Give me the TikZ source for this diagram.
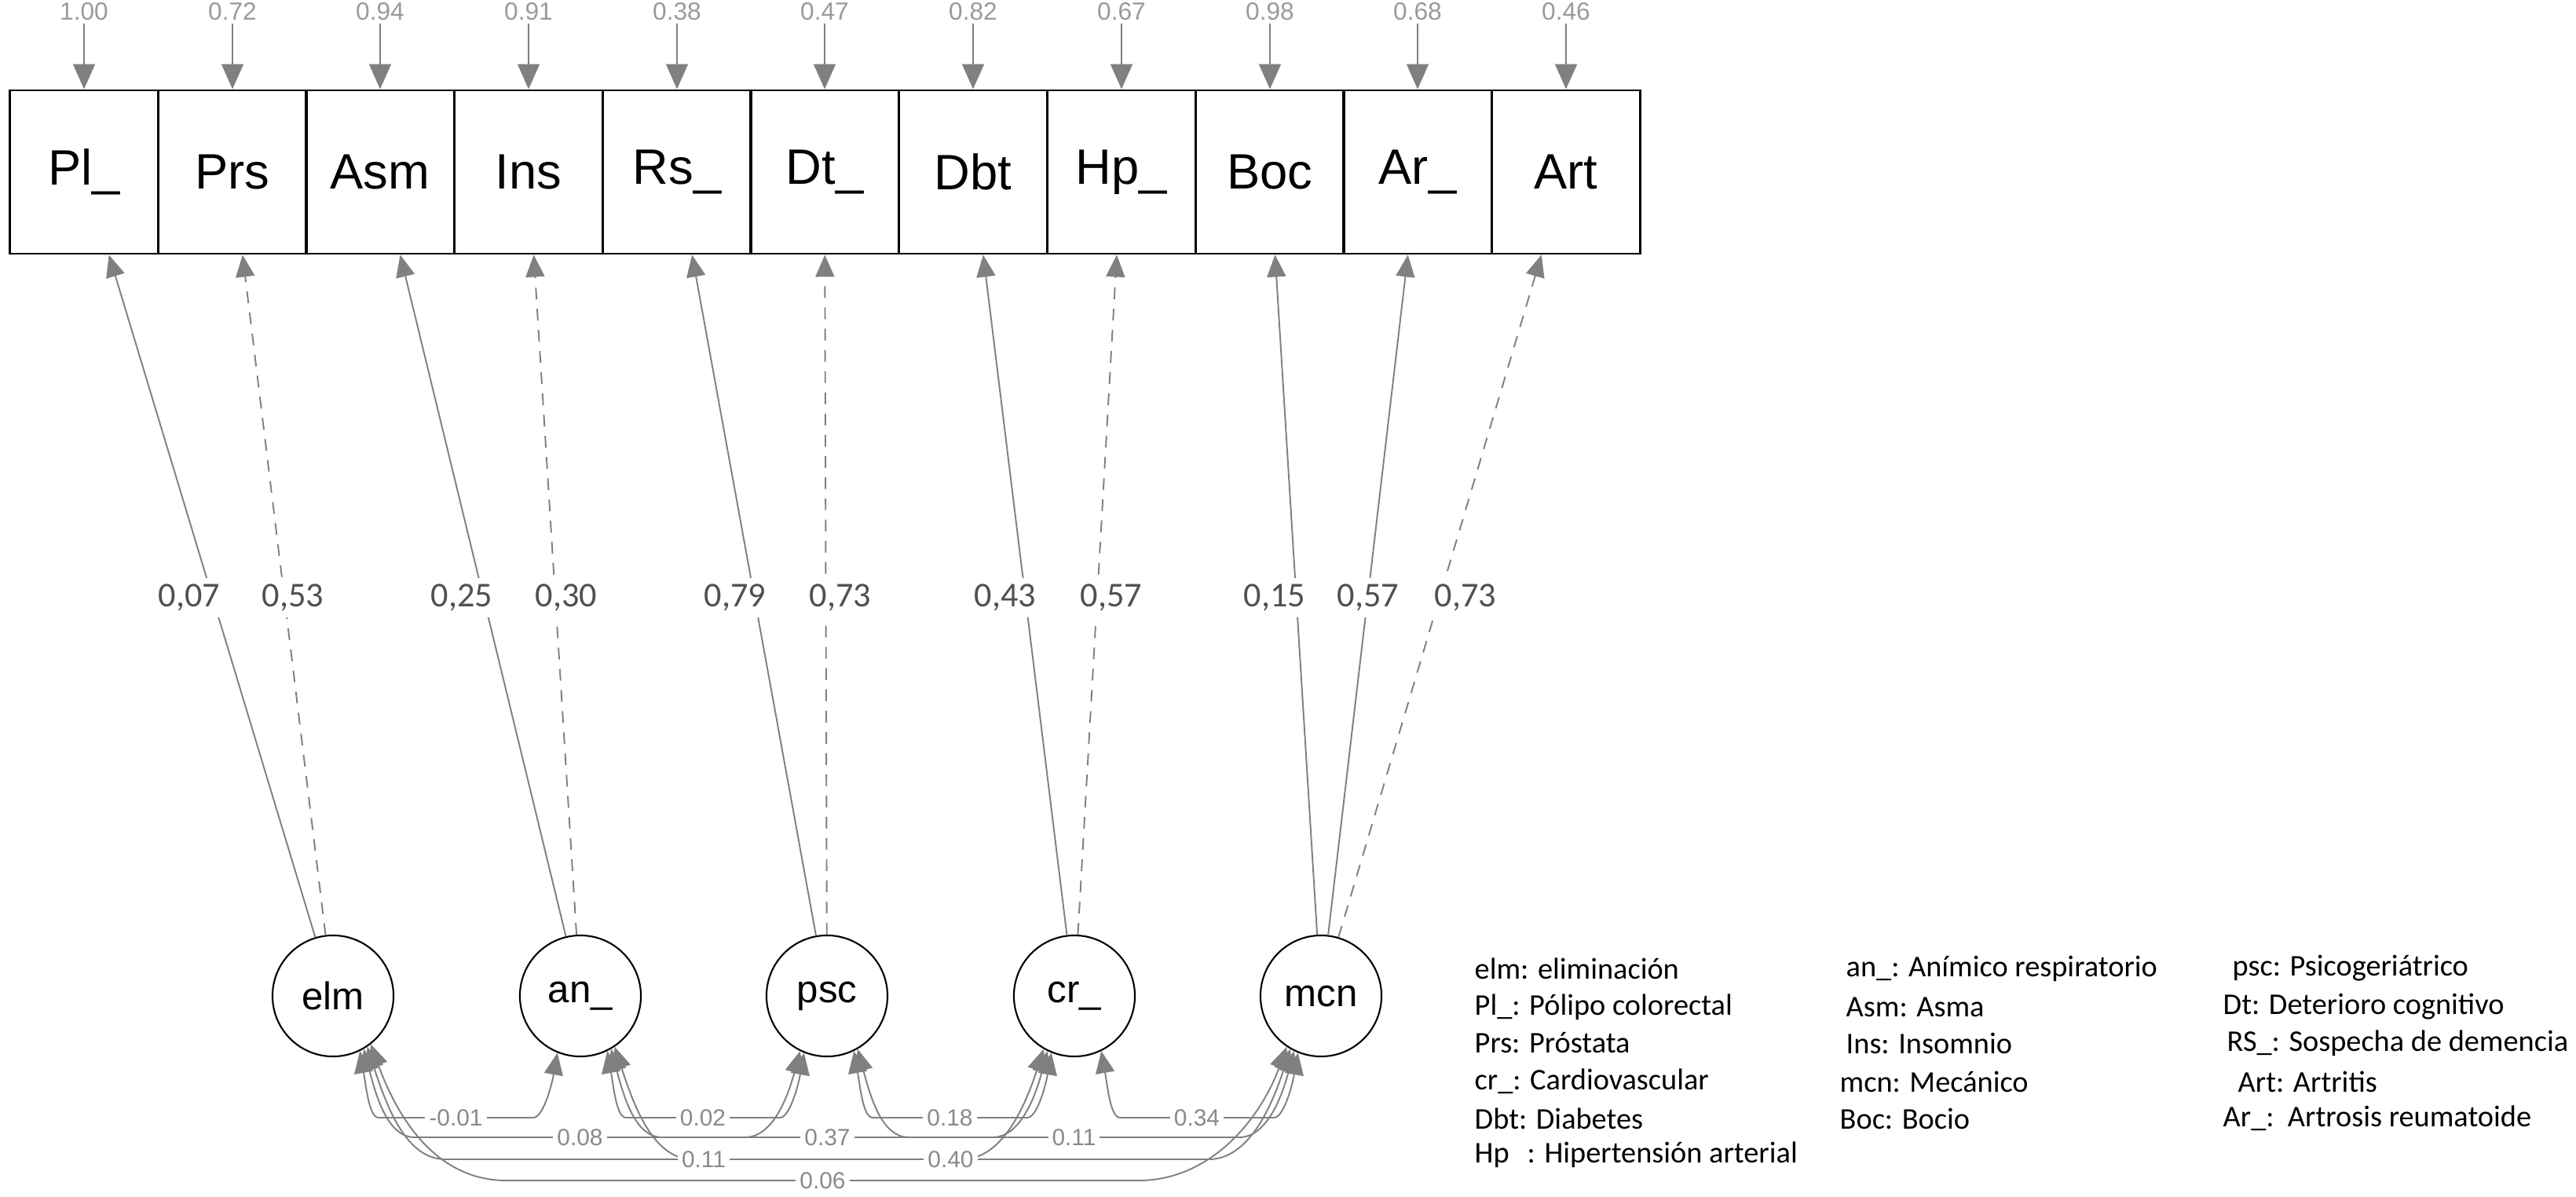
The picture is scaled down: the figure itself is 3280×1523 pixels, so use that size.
\documentclass[tikz,border=0pt]{standalone}
\usepackage{fontspec}
\setmainfont{Liberation Sans}
\newfontfamily\legendfont{Carlito}
\usetikzlibrary{arrows.meta}
\definecolor{edgegray}{HTML}{808080}
\definecolor{resgray}{HTML}{9A9A9A}
\definecolor{loadgray}{HTML}{505050}
\definecolor{covgray}{HTML}{8A8A8A}

\begin{document}
\begin{tikzpicture}[x=0.01cm,y=0.01cm,
  manifest/.style={draw,line width=.8pt,minimum width=1.89cm,minimum height=2.08cm,inner sep=0pt,font=\fontsize{18}{20}\selectfont},
  latent/.style={draw,circle,line width=.6pt,minimum size=1.54cm,inner sep=0pt,font=\fontsize{14}{16}\selectfont},
  reslab/.style={text=resgray,inner sep=1pt,font=\fontsize{9}{10}\selectfont},
  resarrow/.style={draw=edgegray,line width=.6pt,-{Triangle[length=0.32cm,width=0.28cm]}},
  load/.style={draw=edgegray,line width=.55pt,-{Triangle[length=0.28cm,width=0.24cm]}},
  loaddash/.style={load,dash pattern=on 0.15cm off 0.12cm},
  loadlab/.style={fill=white,text=loadgray,inner sep=0.08cm,font=\legendfont\fontsize{12.6}{14}\selectfont},
  cov/.style={draw=edgegray,line width=.55pt,{Triangle[length=0.28cm,width=0.24cm]}-{Triangle[length=0.28cm,width=0.24cm]}},
  covlab/.style={fill=white,text=covgray,inner xsep=0.05cm,inner ysep=0.01cm,font=\fontsize{8.5}{9}\selectfont},
  legend/.style={anchor=west,inner sep=0pt,font=\legendfont\fontsize{10.9}{12}\selectfont}]
  \useasboundingbox (0,0) rectangle (3280,1523);

  % indicators
  \node[manifest] (Pl) at (107,1304) {Pl\_};
  \node[manifest] (Prs) at (296,1304) {Prs};
  \node[manifest] (Asm) at (484,1304) {Asm};
  \node[manifest] (Ins) at (673,1304) {Ins};
  \node[manifest] (Rs) at (862,1304) {Rs\_};
  \node[manifest] (Dt) at (1050,1304) {Dt\_};
  \node[manifest] (Dbt) at (1239,1304) {Dbt};
  \node[manifest] (Hp) at (1428,1304) {Hp\_};
  \node[manifest] (Boc) at (1617,1304) {Boc};
  \node[manifest] (Ar) at (1805,1304) {Ar\_};
  \node[manifest] (Art) at (1994,1304) {Art};

  % factors
  \node[latent] (elm) at (424,255) {elm};
  \node[latent] (an) at (739,255) {an\_};
  \node[latent] (psc) at (1053,255) {psc};
  \node[latent] (cr) at (1368,255) {cr\_};
  \node[latent] (mcn) at (1682,255) {mcn};

  % residuals
  \node[reslab] (rPl) at (107,1508) {1.00};
  \node[reslab] (rPrs) at (296,1508) {0.72};
  \node[reslab] (rAsm) at (484,1508) {0.94};
  \node[reslab] (rIns) at (673,1508) {0.91};
  \node[reslab] (rRs) at (862,1508) {0.38};
  \node[reslab] (rDt) at (1050,1508) {0.47};
  \node[reslab] (rDbt) at (1239,1508) {0.82};
  \node[reslab] (rHp) at (1428,1508) {0.67};
  \node[reslab] (rBoc) at (1617,1508) {0.98};
  \node[reslab] (rAr) at (1805,1508) {0.68};
  \node[reslab] (rArt) at (1994,1508) {0.46};
  \path[resarrow] (rPl) -- (Pl);
  \path[resarrow] (rPrs) -- (Prs);
  \path[resarrow] (rAsm) -- (Asm);
  \path[resarrow] (rIns) -- (Ins);
  \path[resarrow] (rRs) -- (Rs);
  \path[resarrow] (rDt) -- (Dt);
  \path[resarrow] (rDbt) -- (Dbt);
  \path[resarrow] (rHp) -- (Hp);
  \path[resarrow] (rBoc) -- (Boc);
  \path[resarrow] (rAr) -- (Ar);
  \path[resarrow] (rArt) -- (Art);

  % loadings
  \path[load] (elm) -- (Pl);
  \path[loaddash] (elm) -- (Prs);
  \path[load] (an) -- (Asm);
  \path[loaddash] (an) -- (Ins);
  \path[load] (psc) -- (Rs);
  \path[loaddash] (psc) -- (Dt);
  \path[load] (cr) -- (Dbt);
  \path[loaddash] (cr) -- (Hp);
  \path[load] (mcn) -- (Boc);
  \path[load] (mcn) -- (Ar);
  \path[loaddash] (mcn) -- (Art);
  \node[loadlab] (lPl) at (241,762) {0,07};
  \node[loadlab] (lPrs) at (373,762) {0,53};
  \node[loadlab] (lAsm) at (588,762) {0,25};
  \node[loadlab] (lIns) at (721,762) {0,30};
  \node[loadlab] (lRs) at (936,762) {0,79};
  \node[loadlab] (lDt) at (1070,762) {0,73};
  \node[loadlab] (lDbt) at (1280,762) {0,43};
  \node[loadlab] (lHp) at (1415,762) {0,57};
  \node[loadlab] (lBoc) at (1623,762) {0,15};
  \node[loadlab] (lAr) at (1742,762) {0,57};
  \node[loadlab] (lArt) at (1866,762) {0,73};

  % covariances
  \path[cov] (elm.-64) .. controls +(-80:45) and +(180:12) .. (482,100) -- coordinate[midway] (cElmAn) (679,100) .. controls +(0:12) and +(-100:45) .. (an.-112);
  \path[cov] (an.-64) .. controls +(-80:45) and +(180:12) .. (797,100) -- coordinate[midway] (cAnPsc) (993,100) .. controls +(0:12) and +(-100:45) .. (psc.-112);
  \path[cov] (psc.-64) .. controls +(-80:45) and +(180:12) .. (1111,100) -- coordinate[midway] (cPscCr) (1308,100) .. controls +(0:12) and +(-100:45) .. (cr.-112);
  \path[cov] (cr.-64) .. controls +(-80:45) and +(180:12) .. (1426,100) -- coordinate[midway] (cCrMcn) (1622,100) .. controls +(0:12) and +(-100:45) .. (mcn.-112);
  \path[cov] (elm.-60) .. controls +(-75:60) and +(180:35) .. (528,75) -- coordinate[midway] (cElmPsc) (949,75) .. controls +(0:35) and +(-105:60) .. (psc.-116);
  \path[cov] (an.-60) .. controls +(-75:60) and +(180:35) .. (843,75) -- coordinate[midway] (cAnCr) (1264,75) .. controls +(0:35) and +(-105:60) .. (cr.-116);
  \path[cov] (psc.-60) .. controls +(-75:60) and +(180:35) .. (1157,75) -- coordinate[midway] (cPscMcn) (1578,75) .. controls +(0:35) and +(-105:60) .. (mcn.-116);
  \path[cov] (elm.-56) .. controls +(-72:80) and +(180:50) .. (567,47) -- coordinate[midway] (cElmCr) (1225,47) .. controls +(0:50) and +(-108:80) .. (cr.-120);
  \path[cov] (an.-56) .. controls +(-72:80) and +(180:50) .. (882,47) -- coordinate[midway] (cAnMcn) (1539,47) .. controls +(0:50) and +(-108:80) .. (mcn.-120);
  \path[cov] (elm.-52) .. controls +(-70:100) and +(180:90) .. (645,20) -- coordinate[midway] (cElmMcn) (1450,20) .. controls +(0:90) and +(-110:100) .. (mcn.-124);
  \node[covlab] (vElmAn) at (cElmAn) {-0.01};
  \node[covlab] (vAnPsc) at (cAnPsc) {0.02};
  \node[covlab] (vPscCr) at (cPscCr) {0.18};
  \node[covlab] (vCrMcn) at (cCrMcn) {0.34};
  \node[covlab] (vElmPsc) at (cElmPsc) {0.08};
  \node[covlab] (vAnCr) at (cAnCr) {0.37};
  \node[covlab] (vPscMcn) at (cPscMcn) {0.11};
  \node[covlab] (vElmCr) at (cElmCr) {0.11};
  \node[covlab] (vAnMcn) at (cAnMcn) {0.40};
  \node[covlab] (vElmMcn) at (cElmMcn) {0.06};

  % legend
  \node[legend] (kElm) at (1877,290) {elm: eliminación};
  \node[legend] (kPl) at (1877,241) {Pl\_: Pólipo colorectal};
  \node[legend] (kPrs) at (1877,195) {Prs: Próstata};
  \node[legend] (kCr) at (1877,146) {cr\_: Cardiovascular};
  \node[legend] (kDbt) at (1877,99) {Dbt: Diabetes};
  \node[legend] (kHp) at (1877,53) {Hp\hspace{0.6em}: Hipertensión arterial};
  \node[legend] (kAn) at (2350,290) {an\_: Anímico respiratorio};
  \node[legend] (kAsm) at (2350,241) {Asm: Asma};
  \node[legend] (kIns) at (2350,195) {Ins: Insomnio};
  \node[legend] (kMcn) at (2342,146) {mcn: Mecánico};
  \node[legend] (kBoc) at (2342,99) {Boc: Bocio};
  \node[legend] (kPsc) at (2842,290) {psc: Psicogeriátrico};
  \node[legend] (kDt) at (2830,241) {Dt: Deterioro cognitivo};
  \node[legend] (kRs) at (2835,195) {RS\_: Sospecha de demencia};
  \node[legend] (kArt) at (2849,146) {Art: Artritis};
  \node[legend] (kAr) at (2830,99) {Ar\_:\ \ Artrosis reumatoide};
\end{tikzpicture}
\end{document}
